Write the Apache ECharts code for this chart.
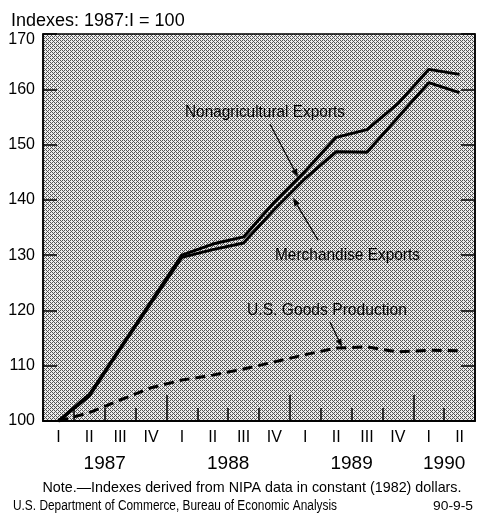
<!DOCTYPE html>
<html>
<head>
<meta charset="utf-8">
<script src="https://cdn.jsdelivr.net/npm/echarts@6/dist/echarts.min.js"></script>
<style>
  html, body { margin: 0; background: #fff; }
  #chart { width: 479px; height: 519px; }
</style>
</head>
<body>
<div id="chart"></div>
<script>
// quarters 1987:I .. 1990:II
const quarters = ['I', 'II', 'III', 'IV', 'I', 'II', 'III', 'IV', 'I', 'II', 'III', 'IV', 'I', 'II']
// year labels sit between quarters II and III (half-quarter slots)
const yearSlots = ['', '', '', '', '1987', '', '', '', '', '', '', '', '1988', '', '', '', '', '', '', '', '1989', '', '', '', '', '', '1990', '', '']
const nonagExports = [100, 104.8, 113.2, 121.6, 130.0, 132.0, 133.3, 139.6, 145.2, 151.3, 152.7, 157.4, 163.6, 162.7]
const merchExports = [100, 104.5, 113.0, 121.3, 129.6, 131.0, 132.2, 138.3, 143.9, 148.7, 148.6, 154.9, 161.2, 159.4]
const goodsProduction = [100, 101.5, 103.8, 106.0, 107.4, 108.3, 109.4, 110.7, 112.0, 113.2, 113.4, 112.5, 112.8, 112.7]
const yMin = 100
const yMax = 170
const yStep = 10

const plain = '"Liberation Sans", Arial, sans-serif'

// stippled gray fill for the plot area
function stipple() {
  const bayer = [0, 8, 2, 10, 12, 4, 14, 6, 3, 11, 1, 9, 15, 7, 13, 5]
  const c = document.createElement('canvas')
  c.width = 4; c.height = 4
  const ctx = c.getContext('2d')
  for (let i = 0; i < 16; i++) {
    ctx.fillStyle = bayer[i] < 6 ? '#555' : '#ececec'
    ctx.fillRect(i % 4, Math.floor(i / 4), 1, 1)
  }
  return { image: c, repeat: 'repeat' }
}

function arrow(x1, y1, x2, y2) {
  const a = Math.atan2(y2 - y1, x2 - x1)
  const len = 8, w = 3
  const bx = x2 - len * Math.cos(a), by = y2 - len * Math.sin(a)
  return [
    { type: 'line', shape: { x1: x1, y1: y1, x2: bx, y2: by }, style: { stroke: '#000', lineWidth: 1.2 } },
    { type: 'polygon', shape: { points: [[x2, y2], [bx + w * Math.sin(a), by - w * Math.cos(a)], [bx - w * Math.sin(a), by + w * Math.cos(a)]] }, style: { fill: '#000' } }
  ]
}

// condensed look: squeeze plain text to the width it has in the original
const measure = document.createElement('canvas').getContext('2d')
function label(text, x, y, size, width, align) {
  const font = size + 'px ' + plain
  measure.font = font
  const sx = width ? width / measure.measureText(text).width : 1
  return {
    type: 'text',
    x: x, y: y,
    scaleX: sx,
    style: { text: text, font: font, fill: '#000', textAlign: align || 'left', align: align || 'left', textVerticalAlign: 'middle', verticalAlign: 'middle' }
  }
}

const chart = echarts.init(document.getElementById('chart'))
const tickStyle = { color: '#000', width: 1.5 }

chart.setOption({
  animation: false,
  backgroundColor: '#fff',
  grid: {
    left: 43, right: 4, top: 34, bottom: 98,
    outerBoundsMode: 'none',
    containLabel: false,
    show: true,
    backgroundColor: stipple(),
    borderColor: '#000',
    borderWidth: 1.5
  },
  xAxis: [{
    type: 'category',
    position: 'bottom',
    data: quarters,
    boundaryGap: true,
    axisLine: { show: true, lineStyle: { color: '#000', width: 1.5 } },
    axisTick: { show: true, interval: 0, inside: true, length: 13, lineStyle: tickStyle },
    axisLabel: { show: true, interval: 0, margin: 9, color: '#000', fontSize: 16, fontFamily: plain }
  }, {
    // taller ticks at year boundaries
    type: 'category',
    position: 'bottom',
    data: quarters,
    boundaryGap: true,
    axisLine: { show: true, lineStyle: { color: '#000', width: 1.5 } },
    axisTick: {
      show: true, inside: true, length: 26, lineStyle: tickStyle,
      interval: function (i) { return i === 4 || i === 8 || i === 12 }
    },
    axisLabel: { show: true, interval: 0, color: 'rgba(0,0,0,0)', fontSize: 16 }
  }, {
    type: 'category',
    position: 'bottom',
    data: yearSlots,
    boundaryGap: false,
    axisLine: { show: false },
    axisTick: { show: false },
    axisLabel: { interval: 0, margin: 33, color: '#000', fontSize: 19, fontFamily: plain }
  }],
  yAxis: [{
    type: 'value',
    min: yMin, max: yMax, interval: yStep,
    axisLine: { show: true, lineStyle: { color: '#000', width: 1.5 } },
    axisTick: { show: true, inside: true, length: 14, lineStyle: tickStyle },
    axisLabel: {
      margin: 8, color: '#000', fontSize: 16, fontFamily: plain,
      formatter: function (v) { return v === yMax ? '{top|' + v + '}' : String(v) },
      rich: { top: { fontSize: 16, fontFamily: plain, color: '#000', padding: [12, 0, 0, 0] } }
    },
    splitLine: { show: false }
  }, {
    type: 'value',
    position: 'right',
    min: yMin, max: yMax, interval: yStep,
    axisLine: { show: true, lineStyle: { color: '#000', width: 1.5 } },
    axisTick: { show: true, inside: true, length: 14, lineStyle: tickStyle },
    axisLabel: { show: false },
    splitLine: { show: false }
  }],
  series: [{
    name: 'U.S. Goods Production',
    type: 'line',
    data: goodsProduction,
    symbol: 'none',
    lineStyle: { color: '#000', width: 3, type: [10, 6] }
  }, {
    name: 'Merchandise Exports',
    type: 'line',
    data: merchExports,
    symbol: 'none',
    lineStyle: { color: '#000', width: 3 }
  }, {
    name: 'Nonagricultural Exports',
    type: 'line',
    data: nonagExports,
    symbol: 'none',
    lineStyle: { color: '#000', width: 3 }
  }],
  graphic: [
    label('Indexes: 1987:I = 100', 11, 21, 18),
    label('Nonagricultural Exports', 185, 112, 17, 160),
    label('Merchandise Exports', 275, 255, 17, 145),
    label('U.S. Goods Production', 247, 310, 17, 160),
    label('Note.\u2014Indexes derived from NIPA data in constant (1982) dollars.', 252, 488, 15, 419, 'center'),
    label('U.S. Department of Commerce, Bureau of Economic Analysis', 13, 506, 14, 324),
    label('90-9-5', 473, 506, 13, 40, 'right')
  ].concat(arrow(270, 124, 298, 177), arrow(318, 240, 293, 198), arrow(330, 322, 342, 347))
})
</script>
</body>
</html>
